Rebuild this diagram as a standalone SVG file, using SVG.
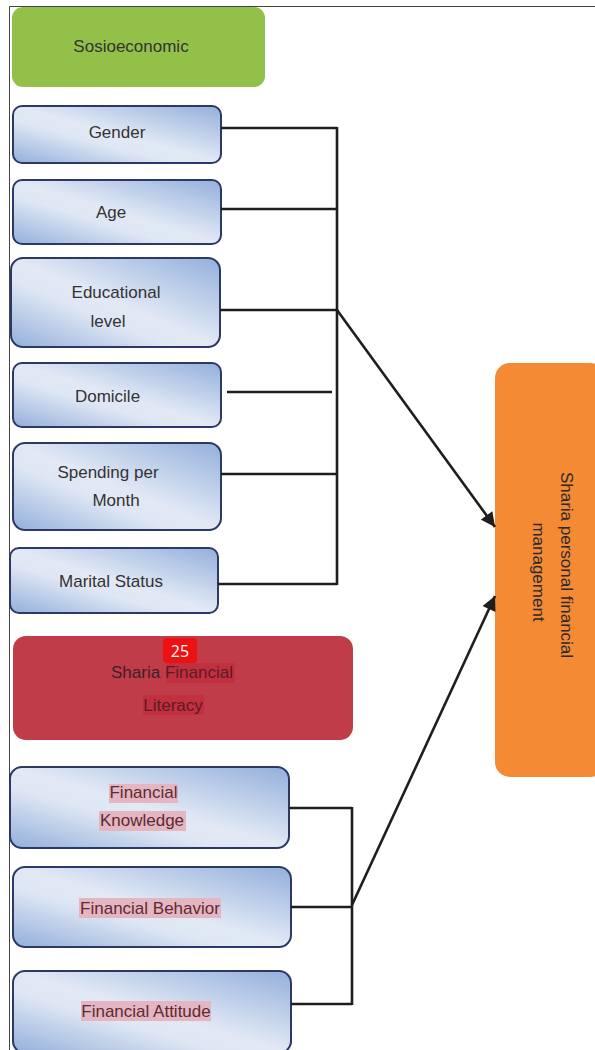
<svg xmlns="http://www.w3.org/2000/svg" width="595" height="1050" viewBox="0 0 595 1050">
<defs>
<linearGradient id="blueFill" x1="1" y1="0" x2="0" y2="1">
<stop offset="0" stop-color="#93afdb"/>
<stop offset="0.5" stop-color="#e2e9f5"/>
<stop offset="0.62" stop-color="#dfe7f4"/>
<stop offset="1" stop-color="#93afdb"/>
</linearGradient>
<marker id="arrow" viewBox="0 0 10 10" refX="10" refY="5" markerWidth="6" markerHeight="5.5" markerUnits="strokeWidth" orient="auto">
<path d="M0,0 L10,5 L0,10 z" fill="#1e1e1e"/>
</marker>
</defs>
<style>
.frame{stroke:#444;stroke-width:1;fill:none}
.blue{fill:url(#blueFill);stroke:#2b3868;stroke-width:2}
.lbl{font-family:"Liberation Sans",Arial,sans-serif;font-size:17px;fill:#333;text-anchor:middle}
.hl{fill:#e3b6c1}
.hlt{fill:#5e2a33}
.conn{stroke:#1e1e1e;stroke-width:2.6;fill:none}
</style>
<rect width="595" height="1050" fill="#fff"/>
<path class="frame" d="M9.5,1050 V6.5 H595"/>

<g id="sosioeconomic">
<rect x="12" y="7" width="253" height="80" rx="11" fill="#92c048"/>
<text class="lbl" x="131" y="52">Sosioeconomic</text>
</g>

<g id="gender">
<rect class="blue" x="13" y="106" width="208" height="57" rx="9"/>
<text class="lbl" x="117" y="138">Gender</text>
</g>
<g id="age">
<rect class="blue" x="13" y="180" width="208" height="64" rx="9"/>
<text class="lbl" x="111" y="218">Age</text>
</g>
<g id="educational">
<rect class="blue" x="11" y="258" width="209" height="89" rx="12"/>
<text class="lbl" x="116" y="298">Educational</text>
<text class="lbl" x="108" y="327">level</text>
</g>
<g id="domicile">
<rect class="blue" x="13" y="363" width="208" height="64" rx="9"/>
<text class="lbl" x="107.5" y="402">Domicile</text>
</g>
<g id="spending">
<rect class="blue" x="13" y="443" width="208" height="87" rx="12"/>
<text class="lbl" x="108" y="478">Spending per</text>
<text class="lbl" x="116" y="506">Month</text>
</g>
<g id="marital">
<rect class="blue" x="10" y="548" width="208" height="65" rx="9"/>
<text class="lbl" x="111" y="587">Marital Status</text>
</g>

<g id="sharia-literacy">
<rect x="13" y="636" width="340" height="104" rx="13" fill="#c03c48"/>
<rect x="166" y="663" width="69" height="20" fill="#c22f3f"/>
<rect x="143" y="695" width="61" height="20" fill="#c22f3f"/>
<text class="lbl" x="172" y="678" style="fill:#3a2226">Sharia <tspan style="fill:#5a1c24">Financial</tspan></text>
<text class="lbl" x="173" y="711" style="fill:#5a1c24">Literacy</text>
<rect x="163" y="638" width="34" height="25" rx="4" fill="#ee1111"/>
<text x="180" y="657" font-family="Open Sans,Noto Sans,sans-serif" font-size="16" fill="#fff" text-anchor="middle">25</text>
</g>

<g id="knowledge">
<rect class="blue" x="10" y="767" width="279" height="81" rx="12"/>
<rect class="hl" x="109" y="784" width="69" height="19"/>
<rect class="hl" x="99" y="811" width="87" height="20"/>
<text class="lbl hlt" x="143.5" y="798">Financial</text>
<text class="lbl hlt" x="142" y="826">Knowledge</text>
</g>
<g id="behavior">
<rect class="blue" x="13" y="867" width="278" height="80" rx="12"/>
<rect class="hl" x="79" y="898" width="142" height="20"/>
<text class="lbl hlt" x="150" y="914">Financial Behavior</text>
</g>
<g id="attitude">
<rect class="blue" x="13" y="971" width="278" height="82" rx="12"/>
<rect class="hl" x="81" y="1001" width="130" height="20"/>
<text class="lbl hlt" x="146" y="1017">Financial Attitude</text>
</g>

<g id="sharia-management">
<rect x="495" y="363" width="110" height="414" rx="15" fill="#f58a35"/>
<text class="lbl" transform="translate(561,565) rotate(90)" style="fill:#2a2a2a">Sharia personal financial</text>
<text class="lbl" transform="translate(533,572) rotate(90)" style="fill:#2a2a2a">management</text>
</g>

<g id="connectors">
<path class="conn" d="M221,128 H337 M221,209 H337 M220,310 H337 M221,474 H337 M218,584 H337 M337,127 V585"/>
<path class="conn" d="M227,392 H332"/>
<path class="conn" d="M337,310 L495,527" marker-end="url(#arrow)"/>
<path class="conn" d="M289,808 H352 M291,907 H352 M291,1004 H352 M352,807 V1005"/>
<path class="conn" d="M352,905 L495,596" marker-end="url(#arrow)"/>
</g>
</svg>
